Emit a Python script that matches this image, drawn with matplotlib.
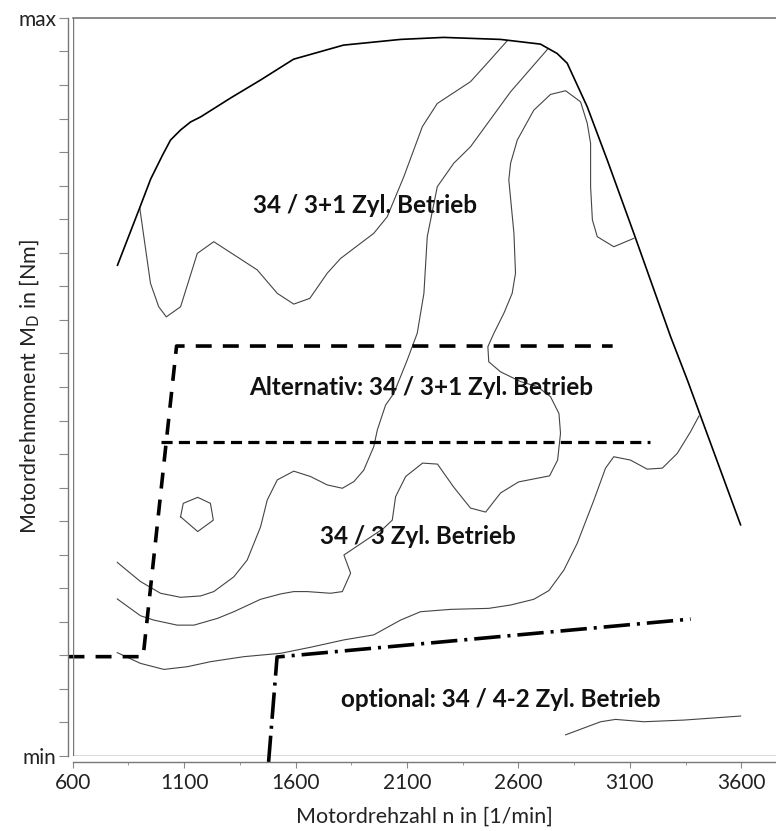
import numpy as np
import matplotlib.pyplot as plt

plt.rcParams['font.family'] = ['Lato', 'DejaVu Sans']
plt.rcParams['lines.scale_dashes'] = False

# Volllastkurve (n in 1/min, M in Skalenteilen 0..22)
vl_n = [801, 900, 950, 1003, 1039, 1084, 1129, 1174, 1310, 1443, 1591, 1815,
        2071, 2264, 2520, 2699, 2774, 2819, 2909, 2999, 3118, 3283, 3358, 3597]
vl_m = [14.63, 16.33, 17.20, 17.91, 18.36, 18.66, 18.90, 19.05, 19.62, 20.15,
        20.77, 21.19, 21.36, 21.42, 21.36, 21.22, 20.94, 20.65, 19.35, 17.76,
        15.58, 12.50, 11.21, 6.89]

# Isolinien (Verbrauchskennfeld)
iso1_n = [901, 949, 986, 1020, 1084, 1159, 1233, 1428, 1518, 1592, 1664, 1742,
          1802, 1951, 2011, 2086, 2169, 2236, 2385, 2460, 2550]
iso1_m = [16.33, 14.09, 13.39, 13.09, 13.39, 14.98, 15.33, 14.49, 13.79, 13.47,
          13.64, 14.39, 14.83, 15.58, 16.07, 17.27, 18.76, 19.45, 20.10, 20.65, 21.32]

iso2_n = [2730, 2565, 2385, 2310, 2236, 2191, 2176, 2146, 2101, 2041, 2004, 1967,
          1951, 1906, 1862, 1810, 1742, 1667, 1592, 1518, 1473, 1443, 1383, 1323,
          1233, 1174, 1084, 994, 904, 800]
iso2_m = [21.06, 19.80, 18.16, 17.67, 16.97, 15.48, 13.79, 12.60, 11.80, 10.81,
          10.46, 9.72, 9.22, 8.52, 8.18, 7.98, 8.08, 8.33, 8.49, 8.23, 7.63, 6.83,
          5.84, 5.34, 4.90, 4.77, 4.73, 4.85, 5.20, 5.77]

iso3_n = [3118, 3028, 2954, 2932, 2924, 2924, 2909, 2879, 2812, 2744, 2669, 2595,
          2565, 2557, 2580, 2587, 2572, 2535, 2490, 2463, 2467, 2520, 2610, 2685,
          2744, 2782, 2789, 2776, 2740, 2601, 2520, 2453, 2385, 2309, 2237, 2170,
          2094, 2049, 2034, 1996, 1817, 1847, 1810, 1757, 1652, 1592, 1533, 1443,
          1323, 1249, 1144, 1069, 964, 904, 800]
iso3_m = [15.43, 15.18, 15.48, 15.98, 16.97, 18.26, 18.86, 19.50, 19.83, 19.72,
          19.25, 18.36, 17.67, 17.17, 15.58, 14.39, 13.79, 13.20, 12.60, 12.20,
          11.75, 11.45, 11.16, 11.01, 10.71, 10.21, 9.62, 8.82, 8.35, 8.17, 7.84,
          7.27, 7.39, 8.02, 8.70, 8.73, 8.33, 7.73, 7.03, 6.79, 5.99, 5.45, 4.90,
          4.85, 4.90, 4.90, 4.83, 4.67, 4.30, 4.10, 3.90, 3.90, 4.05, 4.18, 4.68]

iso4_n = [3410, 3373, 3313, 3246, 3178, 3103, 3028, 2991, 2939, 2864, 2804, 2737,
          2669, 2565, 2467, 2296, 2161, 2071, 1951, 1817, 1667, 1533, 1368, 1218,
          1114, 1009, 904, 800]
iso4_m = [10.13, 9.67, 9.02, 8.58, 8.55, 8.82, 8.92, 8.58, 7.63, 6.34, 5.54, 4.93,
          4.67, 4.50, 4.40, 4.37, 4.30, 4.05, 3.61, 3.46, 3.24, 3.06, 2.96, 2.81,
          2.66, 2.58, 2.76, 3.08]

insel_n = [1084, 1096, 1161, 1218, 1231, 1161, 1084]
insel_m = [7.13, 7.53, 7.71, 7.53, 7.03, 6.69, 7.13]

iso5_n = [2812, 2969, 3036, 3163, 3343, 3597]
iso5_m = [0.63, 1.02, 1.09, 1.02, 1.07, 1.19]

# Betriebsbereichsgrenzen
grenze1_n = [581, 916, 1066, 3023]
grenze1_m = [2.96, 2.96, 12.22, 12.22]
grenze2_n = [994, 3190]
grenze2_m = [9.37, 9.37]
grenze3_n = [1479, 1517, 3373]
grenze3_m = [-0.18, 2.95, 4.08]

labels = ['34 / 3+1 Zyl. Betrieb', 'Alternativ: 34 / 3+1 Zyl. Betrieb',
          '34 / 3 Zyl. Betrieb', 'optional: 34 / 4-2 Zyl. Betrieb']
label_n = [1910, 2165, 2147, 2522]
label_m = [16.42, 10.97, 6.54, 1.67]

fig = plt.figure(figsize=(7.76, 8.31), dpi=100)
ax = fig.add_axes([0.0937, 0.0903, 0.9063, 0.8881])

iso_style = dict(color='#444444', lw=0.8)
for n, m in [(iso1_n, iso1_m), (iso2_n, iso2_m), (iso3_n, iso3_m),
             (iso4_n, iso4_m), (insel_n, insel_m), (iso5_n, iso5_m)]:
    ax.plot(n, m, **iso_style)

ax.plot(vl_n, vl_m, color='black', lw=1.2)

ax.plot(grenze1_n, grenze1_m, color='black', lw=2.6,
        linestyle=(0, (11.5, 8)), clip_on=False)
ax.plot(grenze2_n, grenze2_m, color='black', lw=2.3,
        linestyle=(0, (8, 4.5)))
ax.plot(grenze3_n, grenze3_m, color='black', lw=2.6,
        linestyle=(0, (19, 5, 2.2, 5)), clip_on=False)

for txt, n, m in zip(labels, label_n, label_m):
    ax.text(n, m, txt, ha='center', va='center', fontsize=17.5,
            fontweight='bold', color='#111111')

ax.set_xlim(600, 3756)
ax.set_ylim(0, 22)

# Rahmen: innen Box, aussen versetzte Achsen
ax.spines['right'].set_visible(False)
ax.spines['top'].set_color('#777777')
ax.spines['top'].set_linewidth(1.2)
ax.spines['left'].set_position(('outward', 3.2))
ax.spines['bottom'].set_position(('outward', 4))
for s in ['left', 'bottom']:
    ax.spines[s].set_color('#777777')
    ax.spines[s].set_linewidth(1.0)
ax.axvline(600, color='#777777', lw=1.0)
ax.axhline(0, color='#444444', lw=1.0)

ax.set_xticks(np.arange(600, 3601, 500))
ax.set_xticks(np.arange(850, 3751, 500), minor=True)
ax.set_yticks(np.arange(0, 23, 1))
ax.set_yticklabels(['min'] + [''] * 21 + ['max'])
ax.tick_params(axis='x', which='major', length=4, color='#888888',
               labelsize=15, labelcolor='#222222', pad=4)
ax.tick_params(axis='x', which='minor', length=2, color='#888888')
ax.tick_params(axis='y', length=6.5, color='#888888', labelsize=15,
               labelcolor='#222222', pad=2)

ax.set_xlabel('Motordrehzahl n in [1/min]', fontsize=15.5, color='#222222',
              labelpad=10)
ax.set_ylabel('Motordrehmoment M$_\\mathrm{D}$ in [Nm]', fontsize=15.5,
              color='#222222')
ax.yaxis.set_label_coords(-0.044, 0.5)

fig.savefig('out.png', dpi=100)
